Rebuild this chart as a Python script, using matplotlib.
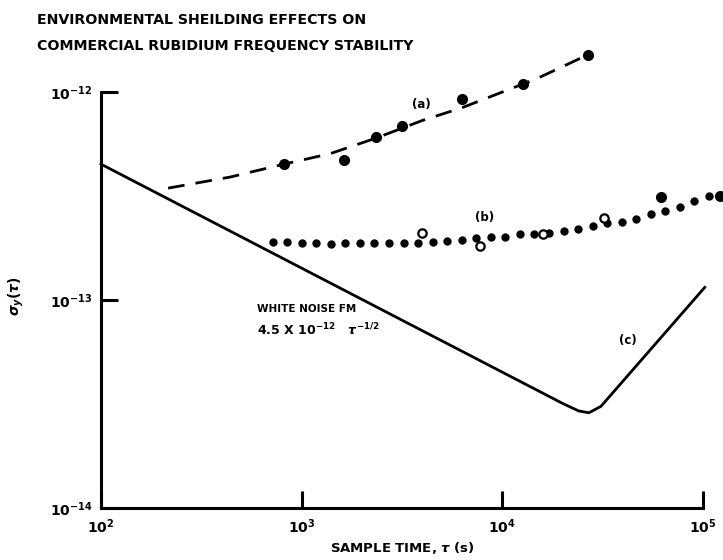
import matplotlib
matplotlib.use("Agg")
import matplotlib.pyplot as plt

# curve (a): measured points and dashed fit
a_tau = [817, 1626, 2344, 3162, 6293, 12680, 26700]
a_sigma = [4.51e-13, 4.71e-13, 6.08e-13, 6.87e-13, 9.25e-13, 1.09e-12, 1.51e-12]
a_fit_tau = [216, 440, 817, 1384, 2344, 4000, 6293, 14860, 26700]
a_fit_sigma = [3.45e-13, 3.90e-13, 4.50e-13, 5.05e-13, 6.0e-13, 7.3e-13, 8.4e-13, 1.16e-12, 1.51e-12]

# curve (b): small filled dots, open circles, large filled dots
b_tau = [716, 846, 1000, 1182, 1396, 1650, 1950, 2304, 2723, 3218, 3802,
         4493, 5309, 6273, 7413, 8760, 10351, 12232, 14454, 17079, 20184,
         23850, 28184, 33306, 39355, 46505, 54954, 64938, 76736, 90678, 107152]
b_sigma = [1.91e-13, 1.90e-13, 1.88e-13, 1.88e-13, 1.86e-13, 1.87e-13, 1.87e-13,
           1.87e-13, 1.87e-13, 1.88e-13, 1.88e-13, 1.90e-13, 1.93e-13, 1.94e-13,
           1.98e-13, 2.00e-13, 2.01e-13, 2.07e-13, 2.07e-13, 2.11e-13, 2.15e-13,
           2.19e-13, 2.26e-13, 2.35e-13, 2.36e-13, 2.46e-13, 2.58e-13, 2.69e-13,
           2.81e-13, 2.99e-13, 3.17e-13]
b_open_tau = [3963, 7727, 15995, 32063]
b_open_sigma = [2.09e-13, 1.82e-13, 2.07e-13, 2.47e-13]
b_big_tau = [61660, 121300]
b_big_sigma = [3.14e-13, 3.16e-13]

# curve (c): white noise FM 4.5e-12 tau^-1/2, then drift
c_tau = [100, 20000, 24000, 27000, 31000, 102000]
c_sigma = [4.5e-13, 3.18e-14, 2.93e-14, 2.87e-14, 3.08e-14, 1.15e-13]

x_ticks = [1e2, 1e3, 1e4, 1e5]
x_labels = [r'$10^{2}$', r'$10^{3}$', r'$10^{4}$', r'$10^{5}$']
y_ticks = [1e-14, 1e-13, 1e-12]
y_labels = [r'$10^{-14}$', r'$10^{-13}$', r'$10^{-12}$']

plt.rcParams['font.family'] = ['DejaVu Sans']
plt.rcParams['font.weight'] = 'bold'
plt.rcParams['mathtext.fontset'] = 'custom'
plt.rcParams['mathtext.rm'] = 'DejaVu Sans:bold'
plt.rcParams['mathtext.it'] = 'DejaVu Sans:italic'
plt.rcParams['mathtext.sf'] = 'DejaVu Sans:bold'

fig = plt.figure(figsize=(7.23, 5.6), dpi=100)
ax = fig.add_axes([101 / 723, 52 / 560, 602 / 723, 416 / 560])
ax.set_xscale('log')
ax.set_yscale('log')
ax.set_xlim(1e2, 1e5)
ax.set_ylim(1e-14, 1e-12)

ax.plot(a_fit_tau, a_fit_sigma, color='black', lw=2.0, dashes=(6, 4), clip_on=False)
ax.plot(a_tau, a_sigma, 'o', color='black', ms=7, clip_on=False)

ax.plot(b_tau, b_sigma, 'o', color='black', ms=5, clip_on=False)
ax.plot(b_open_tau, b_open_sigma, 'o', mfc='white', mec='black', mew=1.6, ms=6, clip_on=False)
ax.plot(b_big_tau, b_big_sigma, 'o', color='black', ms=7, clip_on=False)

ax.plot(c_tau, c_sigma, color='black', lw=2.0, solid_joinstyle='round', clip_on=False)

ax.text(3960, 8.66e-13, '(a)', fontsize=8.5, ha='center', va='center')
ax.text(8180, 2.48e-13, '(b)', fontsize=8.5, ha='center', va='center')
ax.text(42000, 6.4e-14, '(c)', fontsize=8.5, ha='center', va='center')
ax.text(600, 9.06e-14, 'WHITE NOISE FM', fontsize=7.5, ha='left', va='center')
ax.text(600, 7.18e-14, r'4.5 X $10^{-12}$   $\tau^{-1/2}$', fontsize=9, ha='left', va='center')

for s in ['top', 'right']:
    ax.spines[s].set_visible(False)
for s in ['left', 'bottom']:
    ax.spines[s].set_linewidth(2.2)

ax.set_xticks(x_ticks)
ax.set_xticklabels(x_labels)
ax.set_yticks(y_ticks)
ax.set_yticklabels(y_labels)
ax.minorticks_off()
ax.tick_params(direction='in', length=12, width=2.2, labelsize=10, pad=6)
ax.tick_params(axis='x', pad=7)

ax.set_xlabel(r'SAMPLE TIME, $\tau$ (s)', fontsize=9.5, fontweight='bold', labelpad=3)
fig.text(16 / 723, 1 - 296 / 560, r'$\sigma_y(\tau)$', rotation=90, fontsize=10,
         ha='center', va='center')

fig.text(37 / 723, 1 - 20 / 560, 'ENVIRONMENTAL SHEILDING EFFECTS ON', fontsize=10.2,
         ha='left', va='center')
fig.text(37 / 723, 1 - 46 / 560, 'COMMERCIAL RUBIDIUM FREQUENCY STABILITY', fontsize=10.2,
         ha='left', va='center')

fig.savefig('out.png', dpi=100)
